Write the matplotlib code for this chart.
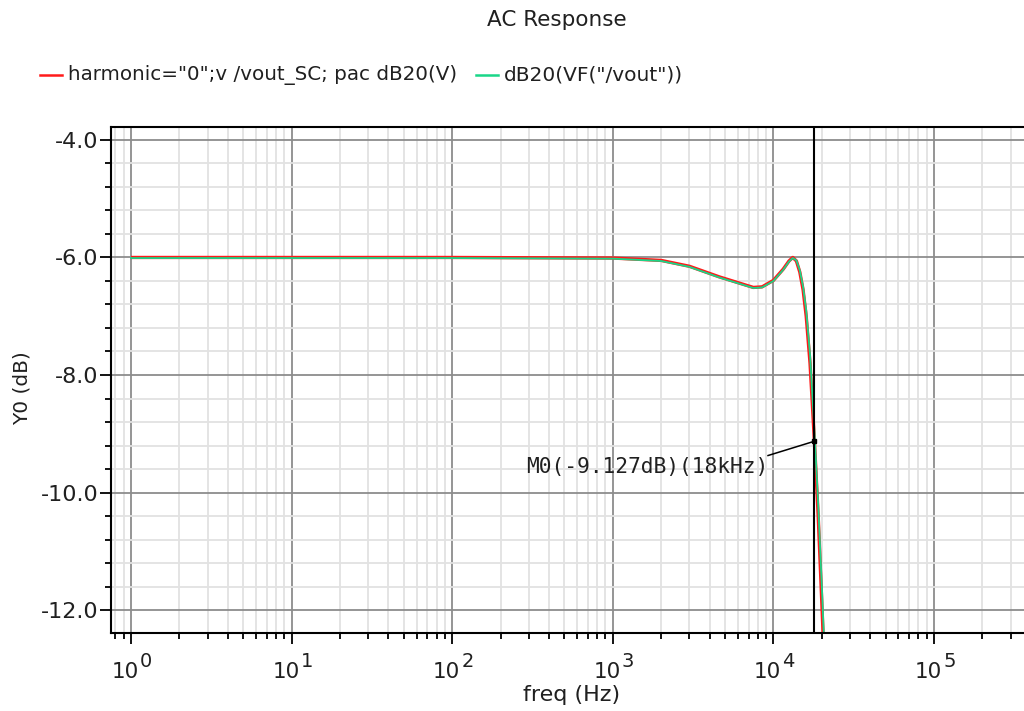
import numpy as np
import matplotlib
matplotlib.use("Agg")
import matplotlib.pyplot as plt
from matplotlib.ticker import LogLocator, MultipleLocator, FormatStrFormatter, NullFormatter, FixedLocator

title = "AC Response"
label_red = 'harmonic="0";v /vout_SC; pac dB20(V)'
label_green = 'dB20(VF("/vout"))'
xlabel = "freq (Hz)"
ylabel = "Y0 (dB)"

freq = [1, 10, 100, 1000, 2000, 3000, 4600, 6200, 7500, 8500, 10000, 11500,
        12500, 13200, 13900, 14600, 15300, 16000, 16900, 18000, 19000, 20100, 21000]
red_db = [-6.0, -6.0, -6.0, -6.01, -6.05, -6.15, -6.33, -6.44, -6.51, -6.50, -6.39, -6.2,
          -6.06, -6.0, -6.06, -6.25, -6.55, -7.0, -7.8, -9.127, -10.4, -12.0, -13.3]
green_db = [-6.01, -6.01, -6.01, -6.02, -6.06, -6.16, -6.34, -6.45, -6.52, -6.51, -6.40, -6.21,
            -6.07, -6.01, -6.05, -6.22, -6.5, -6.9, -7.65, -8.95, -10.2, -11.7, -13.0]

xtick_exponents = [0, 1, 2, 3, 4, 5]

marker_f = 18000
marker_db = -9.127
marker_text = "M0(-9.127dB)(18kHz)"

RED = "#ff1a1a"
GREEN = "#19d688"

fig = plt.figure(figsize=(10.24, 7.11), dpi=100)
ax = fig.add_axes([111/1024, 1-633/711, (1032-111)/1024, (633-127)/711])

ax.plot(freq, red_db, color=RED, lw=2.4, solid_capstyle="butt")
ax.plot(freq, green_db, color=GREEN, lw=1.3)

ax.set_xscale("log")
ax.set_xlim(10**-0.1245, 10**5.61)
ax.set_ylim(-12.39, -3.78)

major_x = [10.0**e for e in xtick_exponents]
ax.xaxis.set_major_locator(FixedLocator(major_x))
ax.xaxis.set_minor_locator(LogLocator(base=10, subs=np.arange(2, 10), numticks=100))
ax.xaxis.set_major_formatter(NullFormatter())
ax.xaxis.set_minor_formatter(NullFormatter())
ax.yaxis.set_major_locator(MultipleLocator(2.0))
ax.yaxis.set_minor_locator(MultipleLocator(0.4))
ax.yaxis.set_major_formatter(FormatStrFormatter("%.1f"))

ax.grid(which="major", color="#8c8c8c", lw=1.3)
ax.grid(which="minor", color="#e2e2e2", lw=1.3)
ax.set_axisbelow(True)

for s in ax.spines.values():
    s.set_color("black")
    s.set_linewidth(1.5)

ax.tick_params(which="major", direction="out", length=8, width=1.3, labelsize=16, color="black")
ax.tick_params(which="minor", direction="out", length=4, width=1.3, color="black")
ax.tick_params(axis="y", which="major", pad=1, labelcolor="#202020")

# x tick labels: "10" with a large exponent
for e, xv in zip(xtick_exponents, major_x):
    ax.annotate("10", xy=(xv, 0), xycoords=("data", "axes fraction"),
                xytext=(8, -45), textcoords="offset pixels",
                ha="right", va="baseline", fontsize=15.5, color="#202020",
                annotation_clip=False)
    ax.annotate(str(e), xy=(xv, 0), xycoords=("data", "axes fraction"),
                xytext=(9, -34), textcoords="offset pixels",
                ha="left", va="baseline", fontsize=14, color="#202020",
                annotation_clip=False)

ax.set_xlabel(xlabel, fontsize=16, labelpad=26, color="#202020")
ax.set_ylabel(ylabel, fontsize=14.5, color="#202020")
ax.yaxis.set_label_coords(-0.086, 0.484)

# marker
ax.axvline(marker_f, color="black", lw=1.5)
ax.plot([marker_f], [marker_db], "s", color="black", ms=3)
tx_f = 10**((768-131)/160.6)
tx_db = -6.0 - (455-257)/58.75
ax.plot([tx_f, marker_f], [tx_db, marker_db], color="black", lw=1.1)
ax.text(tx_f, tx_db - 0.03, marker_text, fontsize=15.3, ha="right", va="top",
        color="#202020", fontfamily="DejaVu Sans Mono")

fig.text(557/1024, 1-20/711, title, ha="center", va="center", fontsize=15.5, color="#202020")

# legend
ly = 1 - 75/711
fig.add_artist(plt.Line2D([40/1024, 62/1024], [ly, ly], color=RED, lw=1.8))
fig.text(68/1024, ly, label_red, ha="left", va="center", fontsize=14.3, color="#202020")
fig.add_artist(plt.Line2D([476/1024, 498/1024], [ly, ly], color=GREEN, lw=1.8))
fig.text(504/1024, ly, label_green, ha="left", va="center", fontsize=14.5, color="#202020")

fig.savefig("out.png", dpi=100)
